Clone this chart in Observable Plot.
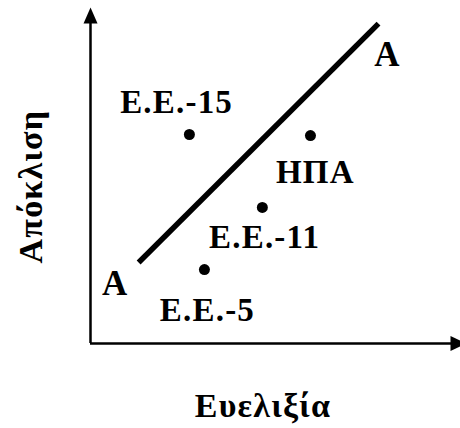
<!DOCTYPE html>
<html>
<head>
<meta charset="utf-8">
<script src="https://cdn.jsdelivr.net/npm/d3@7"></script>
<script src="https://cdn.jsdelivr.net/npm/@observablehq/plot@0.6"></script>
<style>
  html, body { margin: 0; padding: 0; background: #fff; font-family: "Liberation Serif", serif; }
  svg { display: block; }
  #wrap { position: relative; width: 460px; height: 428px; }
  #xtitle { position: absolute; top: 389px; left: 163px; width: 200px; text-align: center;
            font-family: "Liberation Serif", serif; font-weight: bold; font-size: 34px;
            line-height: 34px; letter-spacing: 1.2px; color: #000; }
</style>
</head>
<body>
<div id="wrap">
  <div id="chart"></div>
  <div id="xtitle"></div>
</div>
<script>
// Countries / blocs (points)
const pointNames = ["Ε.Ε.-15", "ΗΠΑ", "Ε.Ε.-11", "Ε.Ε.-5"];
const pointX = [26.3, 58.5, 45.7, 30.3];   // Ευελιξία
const pointY = [62.2, 61.9, 40.5, 22.0];   // Απόκλιση

// Label anchor positions (baseline centre), data units
const labelX = [22.9, 59.8, 46.3, 31.1];
const labelY = [68.5, 47.9, 28.3, 6.8];

// The A–A line
const lineX = [12.8, 76.6];
const lineY = [24.1, 95.2];
const lineLabels = ["Α", "Α"];
const lineLabelX = [6.6, 79.0];
const lineLabelY = [14.3, 82.7];

// Axis titles
const xTitle = "Ευελιξία";
const yTitle = "Απόκλιση";

const points = pointNames.map((n, i) => ({name: n, x: pointX[i], y: pointY[i], lx: labelX[i], ly: labelY[i]}));
const lineData = lineX.map((x, i) => ({x, y: lineY[i]}));
const lineLabelData = lineLabels.map((t, i) => ({t, x: lineLabelX[i], y: lineLabelY[i]}));

const font = "Liberation Serif";

const arrowUp = {draw(ctx) { ctx.moveTo(0, 0); ctx.lineTo(-7, 16); ctx.lineTo(7, 16); ctx.closePath(); }};
const arrowRight = {draw(ctx) { ctx.moveTo(0, 0); ctx.lineTo(-16, -7.5); ctx.lineTo(-16, 7.5); ctx.closePath(); }};

document.getElementById("xtitle").textContent = xTitle;

const chart = Plot.plot({
  width: 460,
  height: 380,
  margin: 0,
  x: {domain: [0, 100], range: [90, 466], axis: null},
  y: {domain: [0, 100], range: [343, 7], axis: null},
  marks: [
    // axes
    Plot.ruleY([0], {x1: 0, x2: 97, stroke: "black", strokeWidth: 2.5}),
    Plot.ruleX([0], {y1: 0, y2: 97, stroke: "black", strokeWidth: 2.5}),
    Plot.dot([{x: 0, y: 100}], {x: "x", y: "y", symbol: arrowUp, fill: "black", stroke: null}),
    Plot.dot([{x: 100, y: 0}], {x: "x", y: "y", symbol: arrowRight, fill: "black", stroke: null}),
    // A–A line
    Plot.line(lineData, {x: "x", y: "y", stroke: "black", strokeWidth: 5.5, strokeLinecap: "butt"}),
    Plot.text(lineLabelData, {x: "x", y: "y", text: "t", fontFamily: font, fontSize: 35, fontWeight: "bold", lineAnchor: "bottom", fill: "black"}),
    // points
    Plot.dot(points, {x: "x", y: "y", r: 5.5, fill: "black", stroke: null}),
    Plot.text(points, {x: "lx", y: "ly", text: "name", fontFamily: font, fontSize: 33, fontWeight: "bold", lineAnchor: "bottom", fill: "black"}),
    // y axis title
    Plot.text([yTitle], {x: -12.8, y: 46.7, text: d => d, rotate: -90, fontFamily: font, fontSize: 34, fontWeight: "bold", lineAnchor: "bottom", fill: "black"})
  ]
});
chart.setAttribute("font-family", font);
chart.querySelectorAll("text").forEach(t => {
  t.style.fontFamily = "'Liberation Serif', serif";
  t.setAttribute("letter-spacing", "1.2");
});
document.getElementById("chart").appendChild(chart);
</script>
</body>
</html>
